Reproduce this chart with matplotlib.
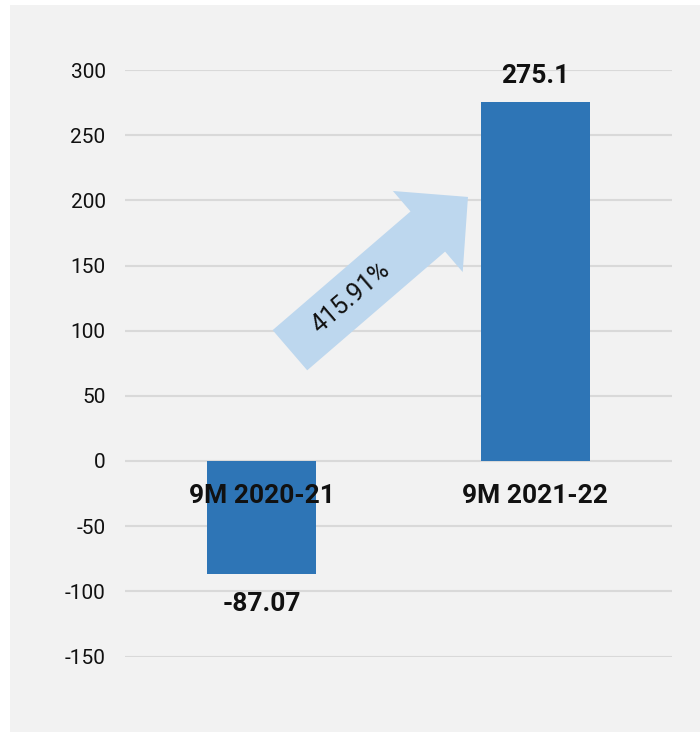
import matplotlib
matplotlib.use("Agg")
import matplotlib.pyplot as plt
import numpy as np
from matplotlib.patches import Rectangle, Polygon

categories = ["9M 2020-21", "9M 2021-22"]
values = [-87.07, 275.1]
value_labels = ["-87.07", "275.1"]
yticks = [-150, -100, -50, 0, 50, 100, 150, 200, 250, 300]
growth_label = "415.91%"

plt.rcParams['font.family'] = ['Roboto', 'DejaVu Sans']

W, H = 700, 732
fig = plt.figure(figsize=(W/100, H/100), dpi=100, facecolor='white')
fig.patches.append(Rectangle((10/W, 0), 1 - 10/W, 1 - 5/H, transform=fig.transFigure,
                             facecolor='#f2f2f2', edgecolor='none', zorder=-10))

ax = fig.add_axes([125/W, 1 - 656.5/H, (672-125)/W, (656.5-70)/H])
ax.set_facecolor('none')
x = np.arange(len(categories))
ax.bar(x, values, width=0.40, color='#2e75b6', zorder=3)
ax.set_xlim(-0.5, 1.5)
ax.set_ylim(-150, 300)
ax.set_yticks(yticks)
ax.set_yticklabels([str(t) for t in yticks], fontsize=15, color='#111111')
ax.tick_params(axis='y', length=0, pad=14)
ax.set_xticks([])
for s in ax.spines.values():
    s.set_visible(False)
ax.grid(axis='y', color='#d9d9d9', linewidth=1.5, zorder=0)

# category labels near zero line
for xi, c in zip(x, categories):
    ax.text(xi, -27, c, ha='center', va='center', fontsize=19, fontweight='bold', color='#111111', zorder=5)
# value labels
for xi, v, lab in zip(x, values, value_labels):
    if v >= 0:
        ax.text(xi, v + 20, lab, ha='center', va='center', fontsize=19, fontweight='bold', color='#111111', zorder=5)
    else:
        ax.text(xi, v - 23, lab, ha='center', va='center', fontsize=19, fontweight='bold', color='#111111', zorder=5)

# growth arrow (decoration), built in display pixels
fig.canvas.draw()
tail = ax.transData.transform((0.103, 85))
tip = ax.transData.transform((0.754, 202.6))
d = tip - tail
L = np.hypot(*d)
u = d / L
n = np.array([-u[1], u[0]])
shaft_w, head_w, head_l = 53, 107, 53
base = tip - u * head_l
verts = [tail + n*shaft_w/2, base + n*shaft_w/2, base + n*head_w/2, tip,
         base - n*head_w/2, base - n*shaft_w/2, tail - n*shaft_w/2]
poly = Polygon(verts, closed=True, transform=None, facecolor='#bdd7ee', edgecolor='none', zorder=4)
fig.patches.append(poly)
mid = tail + u * L * 0.34
angle = np.degrees(np.arctan2(d[1], d[0]))
fig.text(mid[0]/W, mid[1]/H, growth_label, rotation=angle, rotation_mode='anchor',
         ha='center', va='center', fontsize=18, color='#111111', zorder=6)

fig.savefig('out.png', dpi=100, facecolor='white')
